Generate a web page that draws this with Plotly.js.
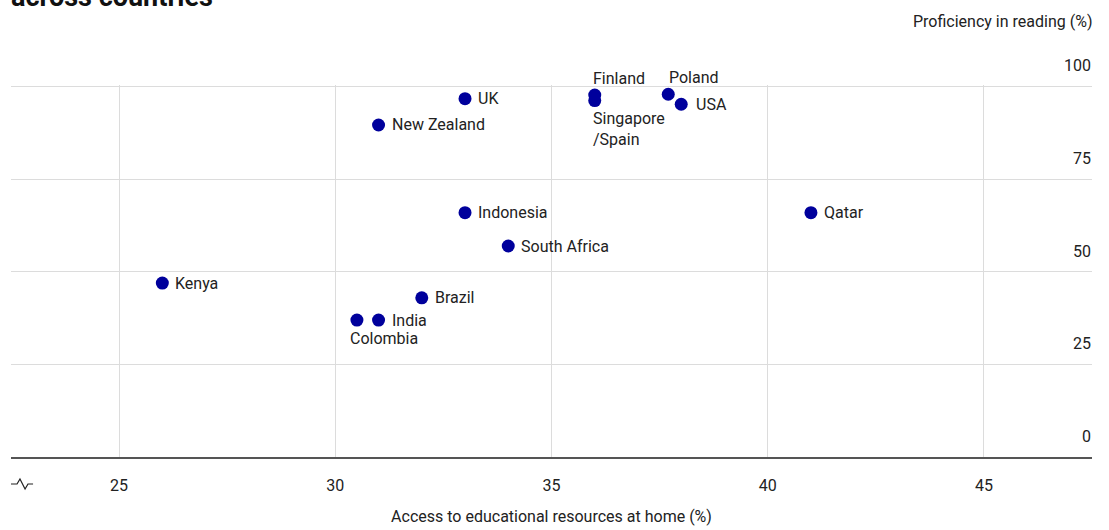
<!DOCTYPE html>
<html>
<head>
<meta charset="utf-8">
<script src="https://cdn.plot.ly/plotly-3.0.1.min.js"></script>
<style>
  html, body { margin: 0; padding: 0; background: #fff; }
  #chart { width: 1109px; height: 530px; }
</style>
</head>
<body>
<div id="chart"></div>
<script>
// ---- Data ----
const countries = ["Kenya", "Colombia", "India", "Brazil", "New Zealand", "UK", "Indonesia", "South Africa", "Finland", "Singapore<br>/Spain", "Poland", "USA", "Qatar"];
const accessPct = [26.0, 30.5, 31.0, 32.0, 31.0, 33.0, 33.0, 34.0, 36.0, 36.0, 37.7, 38.0, 41.0];
const readingPct = [47, 37, 37, 43, 89.7, 96.8, 66, 57, 97.8, 96.3, 98, 95.3, 66];
const xTicks = [25, 30, 35, 40, 45];
const yTicks = [0, 25, 50, 75, 100];

// ---- Label placement (style, not data) ----
const placement = {
  "Finland":            {xanchor: "left", yanchor: "bottom", xshift: -4, yshift: 5},
  "Singapore<br>/Spain": {xanchor: "left", yanchor: "top", xshift: -4, yshift: -6},
  "Poland":             {xanchor: "left", yanchor: "bottom", xshift: -1, yshift: 5},
  "Colombia":           {xanchor: "left", yanchor: "top", xshift: -9, yshift: -7},
  "USA":                {xanchor: "left", yanchor: "middle", xshift: 13, yshift: 0}
};
const defaultPlace = {xanchor: "left", yanchor: "middle", xshift: 11, yshift: 0};

const FONT = "Roboto, 'Noto Sans', sans-serif";
const TXT = "#222";

const labelAnnotations = countries.map((c, i) => {
  const p = placement[c] || defaultPlace;
  return {
    x: accessPct[i], y: readingPct[i], xref: "x", yref: "y",
    text: c, showarrow: false, align: "left",
    xanchor: p.xanchor, yanchor: p.yanchor, xshift: p.xshift, yshift: p.yshift,
    font: {family: FONT, size: 16, color: TXT}
  };
});

const trace = {
  type: "scatter", mode: "markers",
  x: accessPct, y: readingPct,
  marker: {color: "#00009c", size: 13},
  cliponaxis: false,
  hoverinfo: "skip"
};

const layout = {
  width: 1109, height: 530,
  margin: {l: 11, r: 17, t: 85, b: 73},
  paper_bgcolor: "#fff", plot_bgcolor: "#fff",
  showlegend: false,
  font: {family: FONT, size: 16, color: TXT},
  xaxis: {
    range: [22.5, 47.5],
    tickvals: xTicks, ticktext: xTicks.map(String),
    showgrid: true, gridcolor: "#dcdcdc", gridwidth: 1,
    zeroline: false,
    showline: true, linecolor: "#555", linewidth: 1.5,
    ticks: "", ticklabelstandoff: 13,
    tickfont: {family: FONT, size: 16, color: TXT},
    title: {text: "Access to educational resources at home (%)", font: {family: FONT, size: 16, color: TXT}, standoff: 17}
  },
  yaxis: {
    range: [0, 100.5],
    side: "right",
    tickvals: yTicks, ticktext: yTicks.map(String),
    showgrid: true, gridcolor: "#dcdcdc", gridwidth: 1,
    zeroline: false, showline: false, ticks: "",
    ticklabelposition: "inside", ticklabelshift: -21, ticklabelstandoff: -2,
    ticklabeloverflow: "allow",
    tickfont: {family: FONT, size: 16, color: TXT}
  },
  annotations: labelAnnotations.concat([
    {
      xref: "paper", yref: "paper", x: 1, y: 1 + 63 / 372,
      xanchor: "right", yanchor: "middle", showarrow: false, xshift: 2,
      text: "Proficiency in reading (%)",
      font: {family: FONT, size: 16, color: TXT}
    },
    {
      xref: "paper", yref: "paper", x: 0, y: 1 + 88 / 372,
      xanchor: "left", yanchor: "middle", showarrow: false, xshift: -2,
      text: "<b>across countries</b>",
      font: {family: FONT, size: 27, color: "#111"}
    }
  ]),
  shapes: [
    {
      type: "path", xref: "paper", yref: "paper",
      path: "M0,-0.0726 L0.0056,-0.0726 L0.0083,-0.0592 L0.0130,-0.0860 L0.0157,-0.0726 L0.0204,-0.0726",
      line: {color: "#222", width: 1.2}
    }
  ]
};

Plotly.newPlot("chart", [trace], layout, {displayModeBar: false, staticPlot: true});
</script>
</body>
</html>
